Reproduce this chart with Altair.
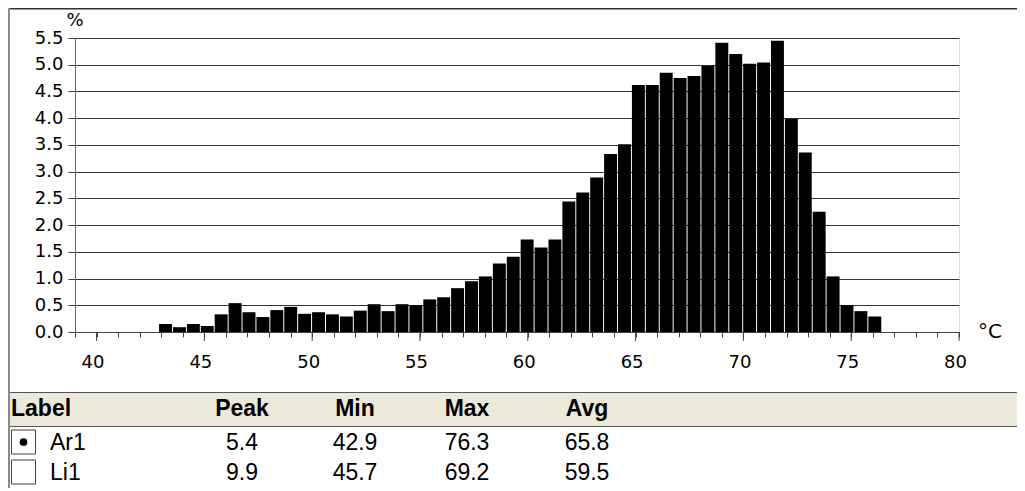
import altair as alt
import pandas as pd

# ---------------- data ----------------
PCT = [0.15, 0.09, 0.15, 0.11, 0.33, 0.54, 0.37, 0.28, 0.41, 0.47,
       0.34, 0.37, 0.33, 0.29, 0.40, 0.52, 0.39, 0.52, 0.50, 0.61,
       0.65, 0.82, 0.95, 1.04, 1.28, 1.41, 1.73, 1.58, 1.73, 2.44,
       2.61, 2.89, 3.33, 3.51, 4.62, 4.62, 4.85, 4.75, 4.79, 4.98,
       5.41, 5.20, 5.02, 5.04, 5.45, 3.99, 3.36, 2.25, 1.04, 0.50,
       0.39, 0.29]
BIN_START_C = 42.9
BIN_WIDTH_C = 0.645
X_MINOR_TICKS = list(range(39, 81))
X_MAJOR_TICKS = [40, 45, 50, 55, 60, 65, 70, 75, 80]
Y_TICKS = [0.0, 0.5, 1.0, 1.5, 2.0, 2.5, 3.0, 3.5, 4.0, 4.5, 5.0, 5.5]

HEADERS = ["Label", "Peak", "Min", "Max", "Avg"]
ROW_LABELS = ["Ar1", "Li1"]
PEAK = ["5.4", "9.9"]
MIN_C = ["42.9", "45.7"]
MAX_C = ["76.3", "69.2"]
AVG_C = ["65.8", "59.5"]
SELECTED = [True, False]

# ---------------- layout (pixels, relative to plot origin) ----------------
W, H = 884, 294
PAD = {"left": 67, "top": 30, "right": 58, "bottom": 156}
COL_X = {"Peak": 167, "Min": 280, "Max": 392, "Avg": 512}
HEADER_Y = 371
ROW_Y = [405, 435]
BOX_Y = [392, 422]
TICK_FONT = "DejaVu Sans"
TABLE_FONT = "Liberation Sans"
TABLE_SIZE = 23

bars_df = pd.DataFrame({
    "start": [BIN_START_C + i * BIN_WIDTH_C for i in range(len(PCT))],
    "pct": PCT,
})
bars_df["end"] = bars_df["start"] + BIN_WIDTH_C

xscale = alt.Scale(domain=[39, 80], nice=False, zero=False)
yscale = alt.Scale(domain=[0, 5.5], nice=False, zero=True)

xaxis = alt.Axis(
    values=X_MINOR_TICKS, tickSize=5, tickColor="#444", domainColor="#444",
    labelExpr="datum.value % 5 === 0 ? datum.label : ''", format="d",
    grid=False, labelFont=TICK_FONT, labelFontSize=18, labelColor="black",
    labelPadding=16, labelOffset=-4, labelFlush=False, labelOverlap=False,
    title=None)
yaxis = alt.Axis(
    values=Y_TICKS, format=".1f", tickSize=7, tickColor="#444",
    domainColor="#666", grid=True, gridColor="#333", gridWidth=1,
    labelFont=TICK_FONT, labelFontSize=18, labelColor="black",
    labelPadding=5, labelFlush=False, labelOverlap=False, title=None)

bars = alt.Chart(bars_df).mark_rect(color="black", strokeWidth=0).transform_calculate(
    endg="datum.end - 0.045", zero="0"
).encode(
    x=alt.X("start:Q", scale=xscale, axis=xaxis),
    x2="endg:Q",
    y=alt.Y("pct:Q", scale=yscale, axis=yaxis),
    y2="zero:Q",
)

major = alt.Chart(pd.DataFrame({"start": X_MAJOR_TICKS})).mark_rule(
    color="#444", strokeWidth=1
).encode(x=alt.X("start:Q", scale=xscale, axis=xaxis),
         y=alt.value(H), y2=alt.value(H + 9))

pct_sym = alt.Chart(pd.DataFrame({"t": ["%"]})).mark_text(
    font=TICK_FONT, fontSize=18, color="black", align="center", baseline="middle").encode(
    x=alt.value(0), y=alt.value(-17), text="t:N")
degc = alt.Chart(pd.DataFrame({"t": ["°C"]})).mark_text(
    font=TICK_FONT, fontSize=20, color="black", align="left", baseline="middle").encode(
    x=alt.value(903), y=alt.value(H), text="t:N")

blank = pd.DataFrame({"a": [0]})
RIGHT = W + PAD["right"]
band = alt.Chart(blank).mark_rect(color="#ECE9D8").encode(
    x=alt.value(-67), x2=alt.value(RIGHT), y=alt.value(354), y2=alt.value(388))
band_top = alt.Chart(blank).mark_rule(color="#555", strokeWidth=1).encode(
    x=alt.value(-67), x2=alt.value(RIGHT), y=alt.value(354.5))
band_bot = alt.Chart(blank).mark_rule(color="#555", strokeWidth=1).encode(
    x=alt.value(-67), x2=alt.value(RIGHT), y=alt.value(388.5))
frame_top = alt.Chart(blank).mark_rule(color="#333", strokeWidth=1.5).encode(
    x=alt.value(-67), x2=alt.value(RIGHT), y=alt.value(-29.25))
frame_left = alt.Chart(blank).mark_rule(color="#8a8a8a", strokeWidth=2).encode(
    x=alt.value(-66), y=alt.value(-30), y2=alt.value(H + PAD["bottom"]))

# header texts
hdr_df = pd.DataFrame({"t": HEADERS[1:], "px": [COL_X[h] for h in HEADERS[1:]],
                       "py": [HEADER_Y] * 4})
hdr_label = alt.Chart(pd.DataFrame({"t": [HEADERS[0]]})).mark_text(
    font=TABLE_FONT, fontSize=TABLE_SIZE, fontWeight="bold", color="black",
    align="left", baseline="middle").encode(
    x=alt.value(-64), y=alt.value(HEADER_Y), text="t:N")
hdr_cols = alt.Chart(hdr_df).mark_text(
    font=TABLE_FONT, fontSize=TABLE_SIZE, fontWeight="bold", color="black",
    align="center", baseline="middle").encode(
    x=alt.X("px:Q", scale=None, axis=None), y=alt.Y("py:Q", scale=None, axis=None),
    text="t:N")

# rows
cells = []
for r, (lab, pk, mn, mx, av) in enumerate(zip(ROW_LABELS, PEAK, MIN_C, MAX_C, AVG_C)):
    for col, val in zip(["Peak", "Min", "Max", "Avg"], [pk, mn, mx, av]):
        cells.append({"t": val, "px": COL_X[col], "py": ROW_Y[r]})
cells_df = pd.DataFrame(cells)
row_vals = alt.Chart(cells_df).mark_text(
    font=TABLE_FONT, fontSize=TABLE_SIZE, color="black", align="center",
    baseline="middle").encode(
    x=alt.X("px:Q", scale=None, axis=None), y=alt.Y("py:Q", scale=None, axis=None),
    text="t:N")
lab_df = pd.DataFrame({"t": ROW_LABELS, "py": ROW_Y})
row_labels = alt.Chart(lab_df).mark_text(
    font=TABLE_FONT, fontSize=TABLE_SIZE, color="black", align="left",
    baseline="middle").encode(
    x=alt.value(-25), y=alt.Y("py:Q", scale=None, axis=None), text="t:N")

box_df = pd.DataFrame({"y1": BOX_Y, "y2": [b + 24 for b in BOX_Y]})
boxes = alt.Chart(box_df).mark_rect(fill="white", stroke="#444", strokeWidth=1).encode(
    x=alt.value(-63.5), x2=alt.value(-39.5),
    y=alt.Y("y1:Q", scale=None, axis=None), y2="y2:Q")
dot_df = pd.DataFrame({"py": [ROW_Y[i] - 1 for i, s in enumerate(SELECTED) if s]})
dots = alt.Chart(dot_df).mark_circle(color="black", opacity=1, size=60).encode(
    x=alt.value(-51.5), y=alt.Y("py:Q", scale=None, axis=None))

chart = alt.layer(
    band, band_top, band_bot, frame_top, frame_left,
    bars, major, pct_sym, degc,
    hdr_label, hdr_cols, row_vals, row_labels, boxes, dots,
).properties(
    width=W, height=H,
    autosize=alt.AutoSizeParams(type="none"),
    padding=PAD,
).configure_view(stroke=None).configure(background="white")

chart.save("out.html", embed_options={"renderer": "svg", "actions": False})
